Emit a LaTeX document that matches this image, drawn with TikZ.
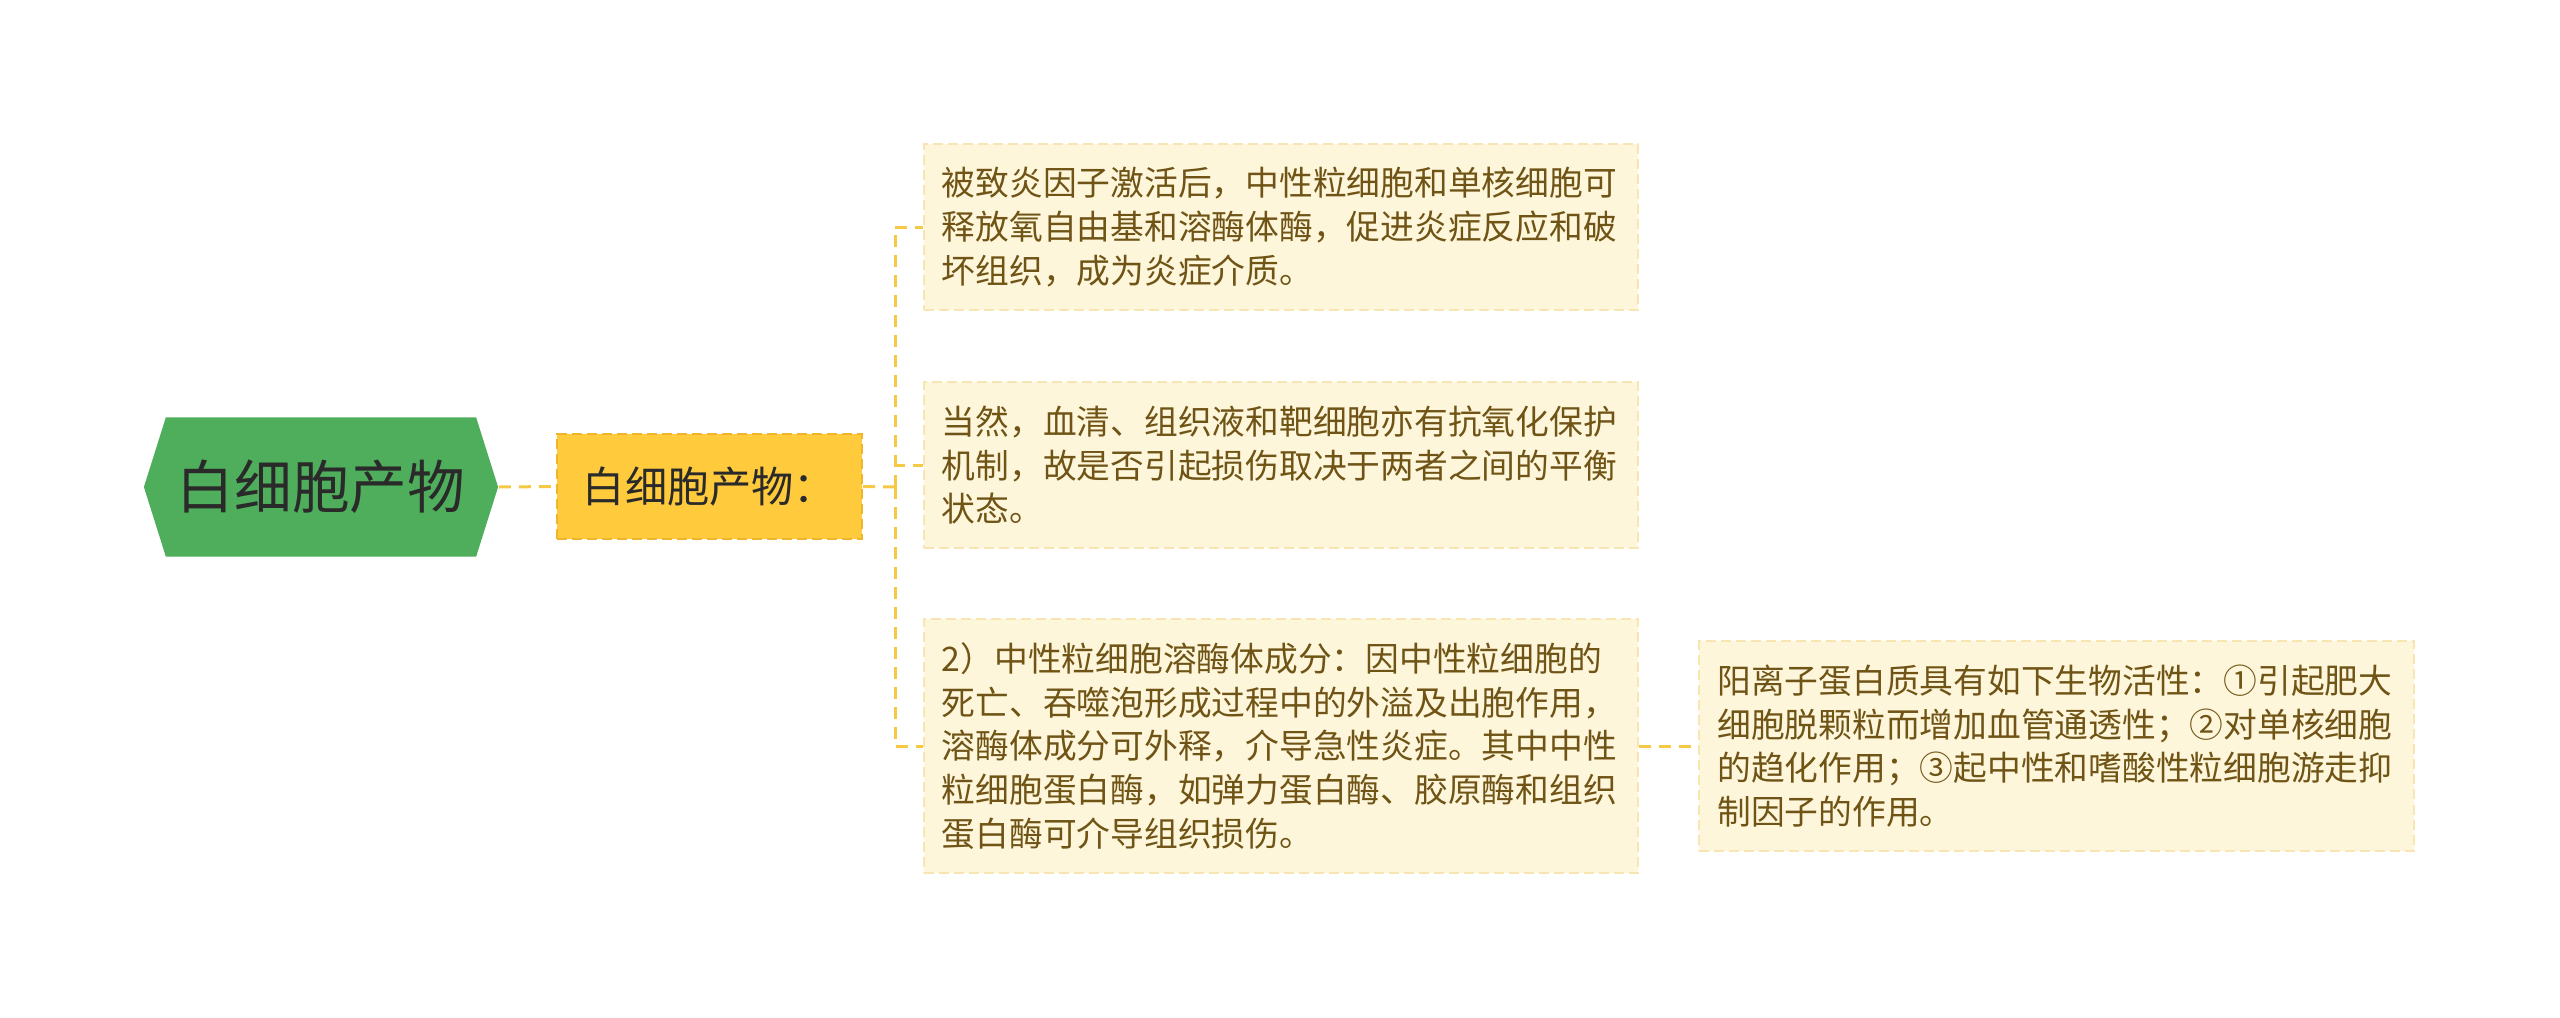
\documentclass[tikz,border=0pt]{standalone}
\usepackage{fontspec}
\setmainfont{Noto Sans CJK SC}
\usetikzlibrary{shapes.symbols}
\definecolor{rootgreen}{HTML}{4FAE5C}
\definecolor{rootdark}{HTML}{2A2A2A}
\definecolor{subyellow}{HTML}{FFCA3B}
\definecolor{subborder}{HTML}{F0B52C}
\definecolor{leafcream}{HTML}{FEF6DB}
\definecolor{leafborder}{HTML}{F7E5B2}
\definecolor{leaftext}{HTML}{6F5416}
\definecolor{linkyellow}{HTML}{F6C945}
\tikzset{
  link/.style={draw=linkyellow, line width=0.03cm, dash pattern=on 0.12cm off 0.08cm},
  leaf/.style={fill=leafcream, draw=leafborder, line width=0.02cm, dash pattern=on 0.1cm off 0.05cm,
    text=leaftext, font=\fontsize{9.6}{12.4}\selectfont, text width=6.78cm, align=left,
    inner xsep=0.18cm, inner ysep=0pt},
}

\begin{document}
\begin{tikzpicture}[x=0.01cm, y=-0.01cm]
  \useasboundingbox (0,0) rectangle (2560,1018);
  % main topic and its one branch
  \node[signal, signal from=nowhere, signal to=east and west, signal pointer angle=145, fill=rootgreen,
    minimum width=3.54cm, minimum height=1.39cm, inner sep=0pt, text=rootdark,
    font=\fontsize{16.4}{20}\selectfont] (root) at (321,487) {白细胞产物};
  \node[fill=subyellow, draw=subborder, line width=0.02cm, dash pattern=on 0.1cm off 0.05cm,
    minimum width=3.05cm, minimum height=1.05cm, inner sep=0pt, text=rootdark,
    font=\fontsize{12}{14}\selectfont] (sub) at (709.5,486.5) {白细胞产物：};
  \draw[link] (root.east) -- (sub.west);
  \coordinate (fork) at (895,487);

  % leaves
  \node[leaf, minimum height=1.66cm] (b1) at (1281,227)
    {被致炎因子激活后，中性粒细胞和单核细胞可\\释放氧自由基和溶酶体酶，促进炎症反应和破\\坏组织，成为炎症介质。};
  \node[leaf, minimum height=1.65cm] (b2) at (1281,465)
    {当然，血清、组织液和靶细胞亦有抗氧化保护\\机制，故是否引起损伤取决于两者之间的平衡\\状态。};
  \node[leaf, minimum height=2.54cm] (b3) at (1281,746)
    {2）中性粒细胞溶酶体成分：因中性粒细胞的\\死亡、吞噬泡形成过程中的外溢及出胞作用，\\溶酶体成分可外释，介导急性炎症。其中中性\\粒细胞蛋白酶，如弹力蛋白酶、胶原酶和组织\\蛋白酶可介导组织损伤。};
  \node[leaf, minimum height=2.09cm] (b4) at (2056.5,746)
    {阳离子蛋白质具有如下生物活性：①引起肥大\\细胞脱颗粒而增加血管通透性；②对单核细胞\\的趋化作用；③起中性和嗜酸性粒细胞游走抑\\制因子的作用。};

  \draw[link] (sub.east) -- (fork);
  \draw[link] (fork) |- (b1.west);
  \draw[link] (fork) |- (b2.west);
  \draw[link] (fork) |- (b3.west);
  \draw[link] (b3.east) -- (b4.west);
\end{tikzpicture}
\end{document}
